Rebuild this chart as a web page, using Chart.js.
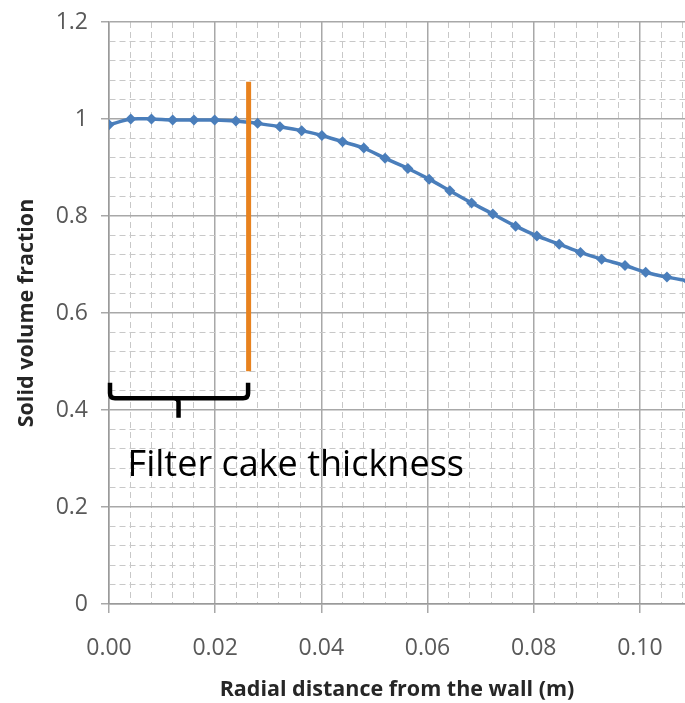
<!DOCTYPE html>
<html>
<head>
<meta charset="utf-8">
<script src="https://cdn.jsdelivr.net/npm/chart.js@4.4.1/dist/chart.umd.min.js"></script>
<style>
  html, body { margin: 0; padding: 0; background: #fff; }
  #wrap { width: 685px; height: 703px; }
</style>
</head>
<body>
<div id="wrap"><canvas id="chart" width="685" height="703"></canvas></div>
<script>
// radial distance (m) and solid volume fraction
const radialDist = [0, 0.0041, 0.0080, 0.0120, 0.0160, 0.0199, 0.0239, 0.0280, 0.0322, 0.0363,
  0.0401, 0.0440, 0.0480, 0.0520, 0.0563, 0.0603, 0.0642, 0.0683, 0.0723, 0.0766,
  0.0806, 0.0848, 0.0888, 0.0928, 0.0972, 0.1011, 0.1051, 0.1091];
const solidFrac = [0.988, 1.0, 1.0, 0.998, 0.998, 0.998, 0.996, 0.991, 0.984, 0.976,
  0.966, 0.953, 0.940, 0.919, 0.898, 0.876, 0.852, 0.827, 0.804, 0.779,
  0.759, 0.742, 0.725, 0.711, 0.698, 0.684, 0.674, 0.666];

// orange marker for the cake edge
const cakeEdgeX = [0.0263, 0.0263];
const cakeEdgeY = [1.077, 0.48];

// bracket: x from, x to, x of tip; y of arms top, bar, tip
const braceX = [0, 0.0262, 0.0131];
const braceY = [0.456, 0.424, 0.384];
const braceLabel = "Filter cake thickness";
const braceLabelPos = [0.0035, 0.264];

const X_MIN = 0, X_MAX = 0.1085, X_STEP = 0.004, X_MAJOR = 0.02;
const Y_MIN = 0, Y_MAX = 1.2, Y_STEP = 0.04, Y_MAJOR = 0.2;

const FONT = "'Open Sans', 'Noto Sans', sans-serif";
const BLUE = "#4a7ebb";
const ORANGE = "#e8821e";
const MAJOR_GRID = "#a8a8a8";
const MINOR_GRID = "#c8c8c8";
const TICK_TEXT = "#595959";

function isMajor(v, major) {
  const r = v / major;
  return Math.abs(r - Math.round(r)) < 1e-6;
}

function gridFor(major) {
  return {
    color: (c) => (c.tick && isMajor(c.tick.value, major) ? MAJOR_GRID : MINOR_GRID),
    lineWidth: (c) => (c.tick && isMajor(c.tick.value, major) ? 1.5 : 1),
    tickColor: (c) => (c.tick && isMajor(c.tick.value, major) ? MAJOR_GRID : "rgba(0,0,0,0)"),
    tickWidth: 1.5,
  };
}

function borderFor(major) {
  return {
    display: true,
    color: "#9a9a9a",
    width: 1.5,
    dash: (c) => (c.tick && !isMajor(c.tick.value, major) ? [6, 4] : []),
  };
}

function noPadding(s) {
  s.paddingLeft = 0;
  s.paddingRight = 0;
  s.paddingTop = 0;
  s.paddingBottom = 0;
}

// brace + caption drawn in data coordinates
const braceAnnotation = {
  id: "braceAnnotation",
  afterDatasetsDraw(chart) {
    const { ctx, scales: { x, y } } = chart;
    const x0 = x.getPixelForValue(braceX[0]) + 1;
    const x1 = x.getPixelForValue(braceX[1]);
    const xt = x.getPixelForValue(braceX[2]);
    const yTop = y.getPixelForValue(braceY[0]);
    const yBar = y.getPixelForValue(braceY[1]);
    const yTip = y.getPixelForValue(braceY[2]);
    const r = 5;
    ctx.save();
    ctx.strokeStyle = "#000";
    ctx.lineWidth = 4.5;
    ctx.lineCap = "butt";
    ctx.lineJoin = "round";
    ctx.beginPath();
    ctx.moveTo(x0, yTop);
    ctx.lineTo(x0, yBar - r);
    ctx.quadraticCurveTo(x0, yBar, x0 + r, yBar);
    ctx.lineTo(x1 - r, yBar);
    ctx.quadraticCurveTo(x1, yBar, x1, yBar - r);
    ctx.lineTo(x1, yTop);
    ctx.stroke();
    ctx.beginPath();
    ctx.moveTo(xt - 4, yBar);
    ctx.quadraticCurveTo(xt, yBar, xt, yBar + 4);
    ctx.lineTo(xt, yTip);
    ctx.stroke();

    ctx.fillStyle = "#000";
    ctx.font = "36px " + FONT;
    ctx.textBaseline = "alphabetic";
    ctx.textAlign = "left";
    ctx.fillText(braceLabel, x.getPixelForValue(braceLabelPos[0]), y.getPixelForValue(braceLabelPos[1]));
    ctx.restore();
  },
};

Chart.defaults.font.family = FONT;

new Chart(document.getElementById("chart"), {
  type: "line",
  data: {
    datasets: [
      {
        label: "cake edge",
        data: cakeEdgeX.map((v, i) => ({ x: v, y: cakeEdgeY[i] })),
        borderColor: ORANGE,
        borderWidth: 5,
        pointRadius: 0,
        order: 0,
      },
      {
        label: "Solid volume fraction",
        data: radialDist.map((v, i) => ({ x: v, y: solidFrac[i] })),
        borderColor: BLUE,
        backgroundColor: BLUE,
        borderWidth: 3.5,
        tension: 0.3,
        pointStyle: "rectRot",
        pointRadius: 5.5,
        pointBorderWidth: 0,
        pointBackgroundColor: BLUE,
        order: 1,
      },
    ],
  },
  options: {
    responsive: false,
    animation: false,
    devicePixelRatio: 1,
    layout: { autoPadding: false, padding: { top: 22, right: 0, left: 0, bottom: 0 } },
    plugins: {
      legend: { display: false },
      tooltip: { enabled: false },
    },
    scales: {
      x: {
        type: "linear",
        min: X_MIN,
        max: X_MAX,
        grid: { ...gridFor(X_MAJOR), tickLength: 9 },
        border: borderFor(X_MAJOR),
        ticks: {
          stepSize: X_STEP,
          maxTicksLimit: 100,
          autoSkip: false,
          includeBounds: false,
          maxRotation: 0,
          padding: 22,
          color: TICK_TEXT,
          font: { size: 23 },
          callback: (v) => (isMajor(v, X_MAJOR) ? v.toFixed(2) : ""),
        },
        title: {
          display: true,
          text: "Radial distance from the wall (m)",
          color: "#262626",
          font: { size: 21.5, weight: "bold" },
          padding: { top: 0, bottom: 0 },
        },
        afterFit: (s) => { s.height = 99; noPadding(s); },
      },
      y: {
        type: "linear",
        min: Y_MIN,
        max: Y_MAX,
        grid: { ...gridFor(Y_MAJOR), tickLength: 8 },
        border: borderFor(Y_MAJOR),
        ticks: {
          stepSize: Y_STEP,
          maxTicksLimit: 100,
          autoSkip: false,
          padding: 13,
          color: TICK_TEXT,
          font: { size: 23 },
          callback: (v) => (isMajor(v, Y_MAJOR) ? String(Math.round(v * 10) / 10) : ""),
        },
        title: {
          display: true,
          text: "Solid volume fraction",
          color: "#262626",
          font: { size: 21.5, weight: "bold" },
          padding: { top: 14, bottom: 0 },
        },
        afterFit: (s) => { s.width = 109; noPadding(s); },
      },
    },
  },
  plugins: [braceAnnotation],
});
</script>
</body>
</html>
